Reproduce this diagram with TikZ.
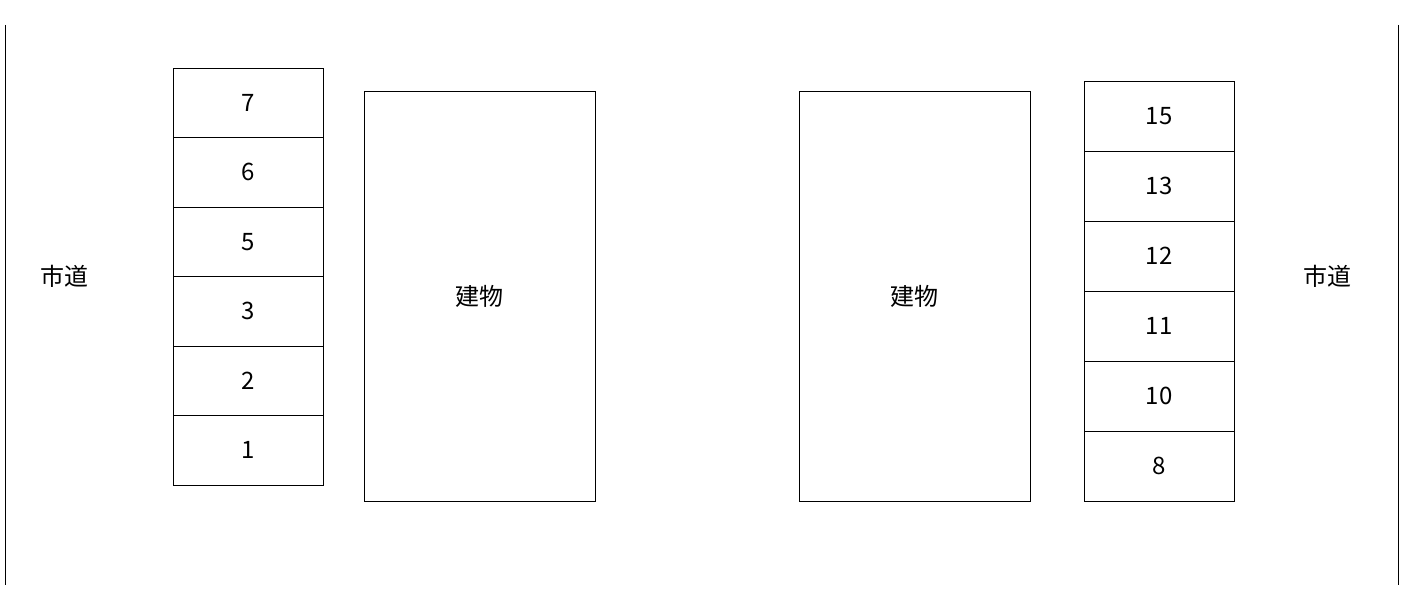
\documentclass[tikz,border=0pt]{standalone}
\usepackage{fontspec}
\setmainfont{Noto Sans CJK JP}
\begin{document}
\begin{tikzpicture}[x=1pt,y=-1pt,
lot/.style={draw, rectangle, line width=0.8pt, minimum width=150pt, minimum height=69.5pt, inner sep=0pt, font=\fontsize{24}{28}\selectfont},
bldg/.style={draw, rectangle, line width=0.8pt, minimum width=231pt, minimum height=410pt, inner sep=0pt, font=\fontsize{24}{28}\selectfont},
road/.style={font=\fontsize{24}{28}\selectfont}]
\useasboundingbox (0,0) rectangle (1403,607);
% roads
\coordinate (roadLt) at (5.5,25);
\coordinate (roadLb) at (5.5,585);
\coordinate (roadRt) at (1398,25);
\coordinate (roadRb) at (1398,585);
\draw[line width=0.8pt](roadLt) -- (roadLb);
\draw[line width=0.8pt](roadRt) -- (roadRb);
\node[road] (roadL) at (64,276){市道};
\node[road] (roadR) at (1327,276){市道};
% left lots
\node[lot] (lot7) at (248,102.75){7};
\node[lot] (lot6) at (248,172.25){6};
\node[lot] (lot5) at (248,241.75){5};
\node[lot] (lot3) at (248,311.25){3};
\node[lot] (lot2) at (248,380.75){2};
\node[lot] (lot1) at (248,450.25){1};
% buildings
\node[bldg] (bldgL) at (479.5,296){建物};
\node[bldg] (bldgR) at (914.5,296){建物};
% right lots
\node[lot, minimum height=70pt] (lot15) at (1159,116){15};
\node[lot, minimum height=70pt] (lot13) at (1159,186){13};
\node[lot, minimum height=70pt] (lot12) at (1159,256){12};
\node[lot, minimum height=70pt] (lot11) at (1159,326){11};
\node[lot, minimum height=70pt] (lot10) at (1159,396){10};
\node[lot, minimum height=70pt] (lot8) at (1159,466){8};
\end{tikzpicture}
\end{document}
